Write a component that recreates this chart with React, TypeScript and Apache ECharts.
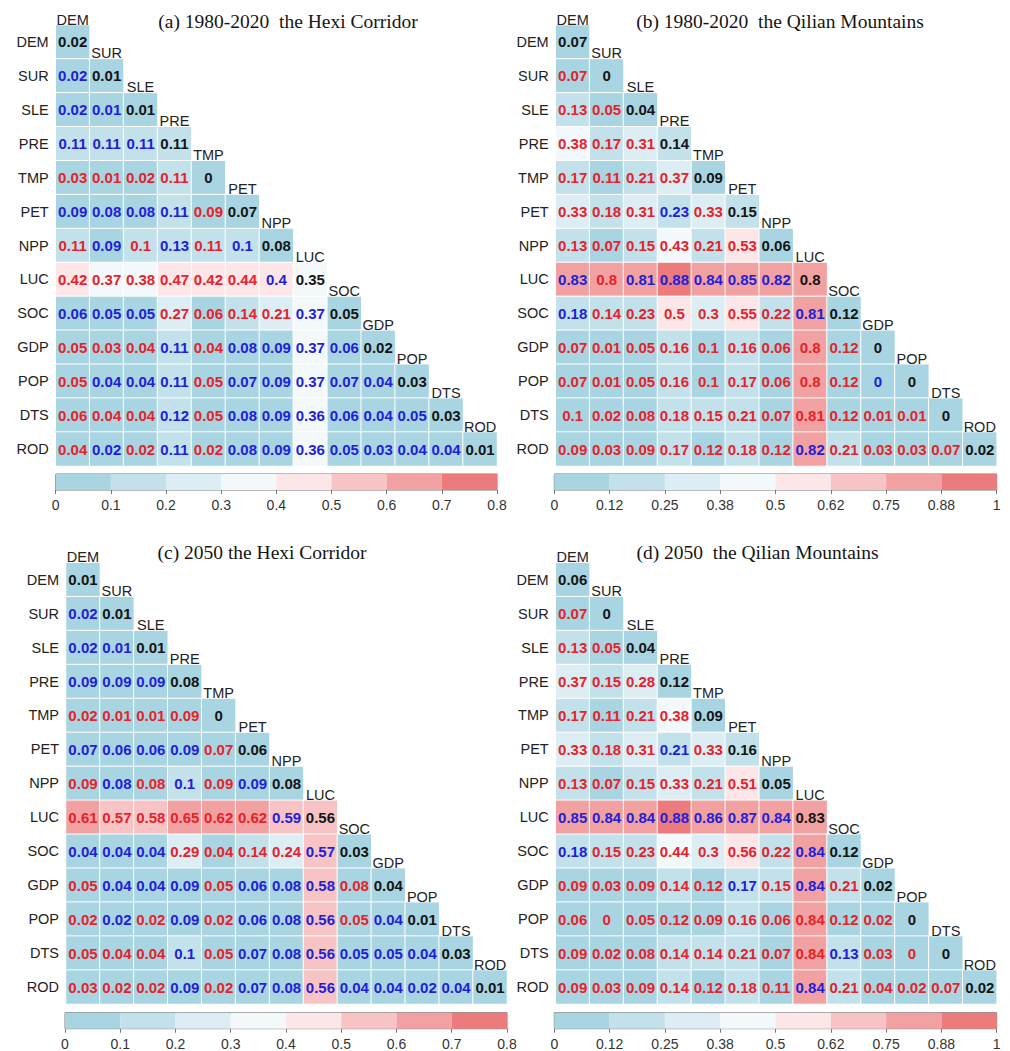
import React, { useEffect, useRef } from "react";
import * as echarts from "echarts";

const VARS = ["DEM", "SUR", "SLE", "PRE", "TMP", "PET", "NPP", "LUC", "SOC", "GDP", "POP", "DTS", "ROD"];

const TITLES = [
  "(a) 1980-2020  the Hexi Corridor",
  "(b) 1980-2020  the Qilian Mountains",
  "(c) 2050 the Hexi Corridor",
  "(d) 2050  the Qilian Mountains",
];

// lower-triangle rows, columns DEM..(row var)
const A_VALUES = [
  [0.02],
  [0.02, 0.01],
  [0.02, 0.01, 0.01],
  [0.11, 0.11, 0.11, 0.11],
  [0.03, 0.01, 0.02, 0.11, 0],
  [0.09, 0.08, 0.08, 0.11, 0.09, 0.07],
  [0.11, 0.09, 0.1, 0.13, 0.11, 0.1, 0.08],
  [0.42, 0.37, 0.38, 0.47, 0.42, 0.44, 0.4, 0.35],
  [0.06, 0.05, 0.05, 0.27, 0.06, 0.14, 0.21, 0.37, 0.05],
  [0.05, 0.03, 0.04, 0.11, 0.04, 0.08, 0.09, 0.37, 0.06, 0.02],
  [0.05, 0.04, 0.04, 0.11, 0.05, 0.07, 0.09, 0.37, 0.07, 0.04, 0.03],
  [0.06, 0.04, 0.04, 0.12, 0.05, 0.08, 0.09, 0.36, 0.06, 0.04, 0.05, 0.03],
  [0.04, 0.02, 0.02, 0.11, 0.02, 0.08, 0.09, 0.36, 0.05, 0.03, 0.04, 0.04, 0.01],
];
// r = red text, b = blue text, k = diagonal (black)
const A_TYPES = ["k", "bk", "bbk", "bbbk", "rrrrk", "bbbbrk", "rbrbrbk", "rrrrrrbk", "bbbrrrrbk", "rrrbrbbbbk", "rbbbrbbbbbk", "rrrbrbbbbbbk", "rbrbrbbbbbbbk"];

const B_VALUES = [
  [0.07],
  [0.07, 0],
  [0.13, 0.05, 0.04],
  [0.38, 0.17, 0.31, 0.14],
  [0.17, 0.11, 0.21, 0.37, 0.09],
  [0.33, 0.18, 0.31, 0.23, 0.33, 0.15],
  [0.13, 0.07, 0.15, 0.43, 0.21, 0.53, 0.06],
  [0.83, 0.8, 0.81, 0.88, 0.84, 0.85, 0.82, 0.8],
  [0.18, 0.14, 0.23, 0.5, 0.3, 0.55, 0.22, 0.81, 0.12],
  [0.07, 0.01, 0.05, 0.16, 0.1, 0.16, 0.06, 0.8, 0.12, 0],
  [0.07, 0.01, 0.05, 0.16, 0.1, 0.17, 0.06, 0.8, 0.12, 0, 0],
  [0.1, 0.02, 0.08, 0.18, 0.15, 0.21, 0.07, 0.81, 0.12, 0.01, 0.01, 0],
  [0.09, 0.03, 0.09, 0.17, 0.12, 0.18, 0.12, 0.82, 0.21, 0.03, 0.03, 0.07, 0.02],
];
const B_TYPES = ["k", "rk", "rrk", "rrrk", "rrrrk", "rrrbrk", "rrrrrrk", "brbbbbbk", "brrrrrrbk", "rrrrrrrrrk", "rrrrrrrrrbk", "rrrrrrrrrrrk", "rrrrrrrbrrrrk"];

const C_VALUES = [
  [0.01],
  [0.02, 0.01],
  [0.02, 0.01, 0.01],
  [0.09, 0.09, 0.09, 0.08],
  [0.02, 0.01, 0.01, 0.09, 0],
  [0.07, 0.06, 0.06, 0.09, 0.07, 0.06],
  [0.09, 0.08, 0.08, 0.1, 0.09, 0.09, 0.08],
  [0.61, 0.57, 0.58, 0.65, 0.62, 0.62, 0.59, 0.56],
  [0.04, 0.04, 0.04, 0.29, 0.04, 0.14, 0.24, 0.57, 0.03],
  [0.05, 0.04, 0.04, 0.09, 0.05, 0.06, 0.08, 0.58, 0.08, 0.04],
  [0.02, 0.02, 0.02, 0.09, 0.02, 0.06, 0.08, 0.56, 0.05, 0.04, 0.01],
  [0.05, 0.04, 0.04, 0.1, 0.05, 0.07, 0.08, 0.56, 0.05, 0.05, 0.04, 0.03],
  [0.03, 0.02, 0.02, 0.09, 0.02, 0.07, 0.08, 0.56, 0.04, 0.04, 0.02, 0.04, 0.01],
];
const C_TYPES = ["k", "bk", "bbk", "bbbk", "rrrrk", "bbbbrk", "rbrbrbk", "rrrrrrbk", "bbbrrrrbk", "rbbbrbbbrk", "rbrbrbbbrbk", "rrrbrbbbbbbk", "rrrbrbbbbbbbk"];

const D_VALUES = [
  [0.06],
  [0.07, 0],
  [0.13, 0.05, 0.04],
  [0.37, 0.15, 0.28, 0.12],
  [0.17, 0.11, 0.21, 0.38, 0.09],
  [0.33, 0.18, 0.31, 0.21, 0.33, 0.16],
  [0.13, 0.07, 0.15, 0.33, 0.21, 0.51, 0.05],
  [0.85, 0.84, 0.84, 0.88, 0.86, 0.87, 0.84, 0.83],
  [0.18, 0.15, 0.23, 0.44, 0.3, 0.56, 0.22, 0.84, 0.12],
  [0.09, 0.03, 0.09, 0.14, 0.12, 0.17, 0.15, 0.84, 0.21, 0.02],
  [0.06, 0, 0.05, 0.12, 0.09, 0.16, 0.06, 0.84, 0.12, 0.02, 0],
  [0.09, 0.02, 0.08, 0.14, 0.14, 0.21, 0.07, 0.84, 0.13, 0.03, 0, 0],
  [0.09, 0.03, 0.09, 0.14, 0.12, 0.18, 0.11, 0.84, 0.21, 0.04, 0.02, 0.07, 0.02],
];
const D_TYPES = ["k", "rk", "rrk", "rrrk", "rrrrk", "rrrbrk", "rrrrrrk", "bbbbbbbk", "brrrrrrbk", "rrrrrbrbrk", "rrrrrrrrrrk", "rrrrrrrrbrrk", "rrrrrrrbrrrrk"];

const TICKS_08 = ["0", "0.1", "0.2", "0.3", "0.4", "0.5", "0.6", "0.7", "0.8"];
const TICKS_1 = ["0", "0.12", "0.25", "0.38", "0.5", "0.62", "0.75", "0.88", "1"];
const SCALE_MAX = [0.8, 1, 0.8, 1];
const BIN_COLORS = ["#a9d4e2", "#c3e1eb", "#dcedf4", "#f3f8fb", "#fde6e7", "#f7c3c4", "#f2a1a2", "#ec7b7d"];

const PANELS = [
  { values: A_VALUES, types: A_TYPES, ticks: TICKS_08 },
  { values: B_VALUES, types: B_TYPES, ticks: TICKS_1 },
  { values: C_VALUES, types: C_TYPES, ticks: TICKS_08 },
  { values: D_VALUES, types: D_TYPES, ticks: TICKS_1 },
];

// layout
const GRIDS = [
  { left: 55.7, top: 25, width: 441.3, height: 441 },
  { left: 555.7, top: 25, width: 441, height: 441 },
  { left: 66, top: 562.7, width: 441, height: 441.3 },
  { left: 555.7, top: 562.7, width: 441, height: 441.3 },
];
const CBARS = [
  { left: 55.7, top: 474, width: 441.3, height: 16 },
  { left: 554.3, top: 474, width: 442.4, height: 16 },
  { left: 65, top: 1012.7, width: 442, height: 16 },
  { left: 554.3, top: 1012.7, width: 442.4, height: 16 },
];
const TITLE_POS = [
  { x: 288, y: 21 },
  { x: 780, y: 21 },
  { x: 262, y: 552 },
  { x: 757.5, y: 552 },
];

const TEXT_COLORS: Record<string, string> = { r: "#e5232b", b: "#1f1fd8", k: "#151515" };
const SANS = "Liberation Sans, Arial, sans-serif";
const SERIF = "Liberation Serif, Times New Roman, serif";

function buildOption() {
  const grid: any[] = [];
  const xAxis: any[] = [];
  const yAxis: any[] = [];
  const series: any[] = [];
  const visualMap: any[] = [];
  const graphic: any[] = [];

  PANELS.forEach((p, pi) => {
    grid.push({ ...GRIDS[pi], containLabel: false });
    xAxis.push({
      type: "category",
      data: VARS,
      gridIndex: pi,
      axisLine: { show: false },
      axisTick: { show: false },
      axisLabel: { show: false },
      splitLine: { show: false },
    });
    yAxis.push({
      type: "category",
      data: VARS,
      gridIndex: pi,
      inverse: true,
      axisLine: { show: false },
      axisTick: { show: false },
      splitLine: { show: false },
      axisLabel: { fontSize: 14.5, color: "#222", fontFamily: SANS, margin: 7 },
    });
  });

  PANELS.forEach((p, pi) => {
    grid.push({
      ...CBARS[pi],
      show: true,
      borderColor: "#7a7a7a",
      borderWidth: 1,
      backgroundColor: "transparent",
    });
    const max = SCALE_MAX[pi];
    const step = max / (p.ticks.length - 1);
    xAxis.push({
      type: "value",
      gridIndex: 4 + pi,
      min: 0,
      max,
      interval: step,
      axisLine: { show: false },
      splitLine: { show: false },
      axisTick: { show: true, length: 4, lineStyle: { color: "#777" } },
      axisLabel: {
        fontSize: 14,
        color: "#333",
        fontFamily: SANS,
        margin: 8,
        showMinLabel: true,
        showMaxLabel: true,
        formatter: (v: number) => p.ticks[Math.round(v / step)] ?? "",
      },
    });
    yAxis.push({ type: "category", data: [""], gridIndex: 4 + pi, show: false });
  });

  PANELS.forEach((p, pi) => {
    const data: any[] = [];
    p.values.forEach((row, r) => {
      row.forEach((v, c) => {
        data.push({ value: [c, r, v], label: { color: TEXT_COLORS[p.types[r][c]] } });
      });
    });
    const hmIndex = series.length;
    series.push({
      type: "heatmap",
      xAxisIndex: pi,
      yAxisIndex: pi,
      data,
      itemStyle: { borderColor: "#ffffff", borderWidth: 1 },
      emphasis: { disabled: true },
      label: {
        show: true,
        fontSize: 15,
        fontWeight: "bold",
        fontFamily: SANS,
        formatter: (prm: any) => String(prm.value[2]),
      },
    });
    const max = SCALE_MAX[pi];
    const step = max / BIN_COLORS.length;
    visualMap.push({
      type: "piecewise",
      show: false,
      seriesIndex: hmIndex,
      dimension: 2,
      pieces: BIN_COLORS.map((col, i) => {
        const lo = Math.round(i * step * 10000) / 10000;
        const hi = Math.round((i + 1) * step * 10000) / 10000;
        return i === BIN_COLORS.length - 1 ? { gte: lo, lte: hi, color: col } : { gte: lo, lt: hi, color: col };
      }),
    });
    // column headers above diagonal cells
    series.push({
      type: "custom",
      xAxisIndex: pi,
      yAxisIndex: pi,
      silent: true,
      data: VARS.map((_, i) => [i, i]),
      renderItem: (params: any, api: any) => {
        const pt = api.coord([api.value(0), api.value(1)]);
        const sz = api.size([1, 1]);
        return {
          type: "text",
          x: pt[0],
          y: pt[1] - sz[1] / 2 + 2,
          style: {
            text: VARS[params.dataIndex],
            fill: "#222",
            fontSize: 14.5,
            fontFamily: SANS,
            align: "center",
            verticalAlign: "bottom",
          },
        };
      },
    });
    // colorbar
    series.push({
      type: "custom",
      xAxisIndex: 4 + pi,
      yAxisIndex: 4 + pi,
      silent: true,
      encode: { x: [0, 1], y: 2 },
      data: BIN_COLORS.map((_, i) => [i * step, (i + 1) * step, 0]),
      renderItem: (params: any, api: any) => {
        const p0 = api.coord([api.value(0), 0]);
        const p1 = api.coord([api.value(1), 0]);
        const h = api.size([0, 1])[1];
        return {
          type: "rect",
          shape: { x: p0[0], y: p0[1] - h / 2, width: p1[0] - p0[0], height: h },
          style: { fill: BIN_COLORS[params.dataIndex] },
        };
      },
    });
    graphic.push({
      type: "text",
      x: TITLE_POS[pi].x,
      y: TITLE_POS[pi].y,
      style: {
        text: TITLES[pi],
        fontSize: 19.5,
        fontFamily: SERIF,
        fill: "#151515",
        align: "center",
        verticalAlign: "middle",
      },
    });
  });

  return {
    animation: false,
    backgroundColor: "#ffffff",
    grid,
    xAxis,
    yAxis,
    visualMap,
    series,
    graphic,
  };
}

export default function App() {
  const ref = useRef<HTMLDivElement>(null);
  useEffect(() => {
    document.body.style.margin = "0";
    if (!ref.current) return;
    const chart = echarts.init(ref.current, undefined, { renderer: "svg" });
    chart.setOption(buildOption() as any);
    return () => chart.dispose();
  }, []);
  return <div ref={ref} style={{ width: 1010, height: 1051 }} />;
}
